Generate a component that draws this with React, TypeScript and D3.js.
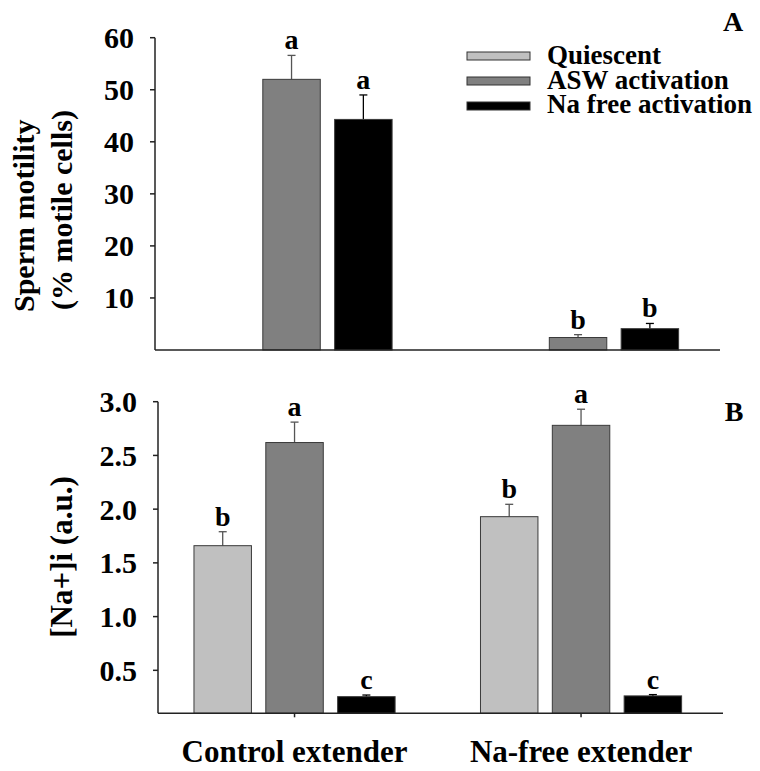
import * as d3 from 'd3';
import React, { useEffect, useRef } from 'react';

const categories = ['Control extender', 'Na-free extender'];
const series = ['Quiescent', 'ASW activation', 'Na free activation'];
const seriesColors = ['#c0c0c0', '#808080', '#000000'];

// panel A: sperm motility (% motile cells), one row per series
const motilityMeans = [[0, 0], [52.0, 2.4], [44.3, 4.1]];
const motilityErrors = [[0, 0], [4.6, 0.55], [4.7, 1.0]];
const motilityLetters = [['', ''], ['a', 'b'], ['a', 'b']];
const motilityTicks = [10, 20, 30, 40, 50, 60];

// panel B: [Na+]i (a.u.)
const sodiumMeans = [[1.66, 1.93], [2.62, 2.78], [0.255, 0.262]];
const sodiumErrors = [[0.13, 0.115], [0.19, 0.15], [0.015, 0.012]];
const sodiumLetters = [['b', 'b'], ['a', 'a'], ['c', 'c']];
const sodiumTicks = [0.5, 1.0, 1.5, 2.0, 2.5, 3.0];

const FONT = '"Liberation Serif", "Times New Roman", serif';

const drawPanel = (svg, opt) => {
    const g = svg.append('g');
    const x0 = d3.scaleBand()
        .domain(categories)
        .range([opt.left, opt.right])
        .paddingInner(0.298)
        .paddingOuter(0.135)
        .align(0.465);
    const x1 = d3.scaleBand()
        .domain(series)
        .range([0, x0.bandwidth()])
        .paddingInner(0.2);
    const y = d3.scaleLinear().domain(opt.domain).range([opt.bottom, opt.top]);

    series.forEach((s, si) => {
        categories.forEach((c, ci) => {
            const v = opt.means[si][ci];
            if (!v) return;
            const e = opt.errors[si][ci];
            const bx = x0(c) + x1(s);
            const cx = bx + x1.bandwidth() / 2;
            const errColor = si === 2 ? '#000' : '#555';

            // error bar (upper only)
            g.append('line')
                .attr('x1', cx).attr('x2', cx)
                .attr('y1', y(v)).attr('y2', y(v + e))
                .attr('stroke', errColor).attr('stroke-width', 1.3);
            g.append('line')
                .attr('x1', cx - 4).attr('x2', cx + 4)
                .attr('y1', y(v + e)).attr('y2', y(v + e))
                .attr('stroke', errColor).attr('stroke-width', 1.3);

            g.append('rect')
                .attr('x', bx)
                .attr('y', y(v))
                .attr('width', x1.bandwidth())
                .attr('height', y(opt.domain[0]) - y(v))
                .attr('fill', seriesColors[si])
                .attr('stroke', '#3a3a3a')
                .attr('stroke-width', 1);

            g.append('text')
                .attr('x', cx)
                .attr('y', y(v + e) - 6)
                .attr('text-anchor', 'middle')
                .attr('font-family', FONT)
                .attr('font-weight', 'bold')
                .attr('font-size', 28)
                .text(opt.letters[si][ci]);
        });
    });

    // y axis
    g.append('line')
        .attr('x1', opt.left).attr('x2', opt.left)
        .attr('y1', y(opt.domain[1])).attr('y2', opt.bottom)
        .attr('stroke', '#222').attr('stroke-width', 1.5);
    opt.ticks.forEach((t) => {
        g.append('line')
            .attr('x1', opt.left - 5).attr('x2', opt.left)
            .attr('y1', y(t)).attr('y2', y(t))
            .attr('stroke', '#222').attr('stroke-width', 1.5);
        g.append('text')
            .attr('x', opt.left - 21)
            .attr('y', y(t))
            .attr('dy', '0.35em')
            .attr('text-anchor', 'end')
            .attr('font-family', FONT)
            .attr('font-weight', 'bold')
            .attr('font-size', 30)
            .text(opt.tickFormat(t));
    });

    // x axis
    g.append('line')
        .attr('x1', opt.left).attr('x2', opt.right)
        .attr('y1', opt.bottom).attr('y2', opt.bottom)
        .attr('stroke', '#222').attr('stroke-width', 1.5);
    if (opt.xTicks) {
        categories.forEach((c) => {
            const cx = x0(c) + x0.bandwidth() / 2;
            g.append('line')
                .attr('x1', cx).attr('x2', cx)
                .attr('y1', opt.bottom).attr('y2', opt.bottom + 4)
                .attr('stroke', '#222').attr('stroke-width', 1.5);
            g.append('text')
                .attr('x', cx)
                .attr('y', 762)
                .attr('text-anchor', 'middle')
                .attr('font-family', FONT)
                .attr('font-weight', 'bold')
                .attr('font-size', 31)
                .text(c);
        });
    }
};

export default function App() {
    const ref = useRef(null);

    useEffect(() => {
        const svg = d3.select(ref.current);
        svg.selectAll('*').remove();

        drawPanel(svg, {
            left: 155, right: 720, top: 37.7, bottom: 350,
            domain: [0, 60],
            means: motilityMeans, errors: motilityErrors, letters: motilityLetters,
            ticks: motilityTicks, tickFormat: d3.format('d'), xTicks: false,
        });
        drawPanel(svg, {
            left: 158, right: 723, top: 401.7, bottom: 713.3,
            domain: [0.1, 3.0],
            means: sodiumMeans, errors: sodiumErrors, letters: sodiumLetters,
            ticks: sodiumTicks, tickFormat: d3.format('.1f'), xTicks: true,
        });

        const txt = (x, y, s, size, anchor = 'start', rotate = false) => svg.append('text')
            .attr('transform', `translate(${x},${y})${rotate ? ' rotate(-90)' : ''}`)
            .attr('text-anchor', anchor)
            .attr('font-family', FONT)
            .attr('font-weight', 'bold')
            .attr('font-size', size)
            .text(s);

        // axis titles
        txt(34, 312, 'Sperm motility', 30, 'start', true);
        txt(72, 310, '(% motile cells)', 30, 'start', true);
        txt(72, 557, '[Na+]i (a.u.)', 31, 'middle', true);

        // panel letters
        txt(733, 31, 'A', 28, 'middle');
        txt(734, 421, 'B', 28, 'middle');

        // legend
        series.forEach((s, i) => {
            svg.append('rect')
                .attr('x', 467).attr('y', 52 + i * 25)
                .attr('width', 63).attr('height', 8)
                .attr('fill', seriesColors[i])
                .attr('stroke', '#333').attr('stroke-width', 1);
            txt(547, 64 + i * 24.5, s, 27);
        });
    }, []);

    return (
        <svg
            ref={ref}
            width={760}
            height={771}
            style={{ position: 'absolute', left: 0, top: 0, background: '#fff' }}
        />
    );
}
